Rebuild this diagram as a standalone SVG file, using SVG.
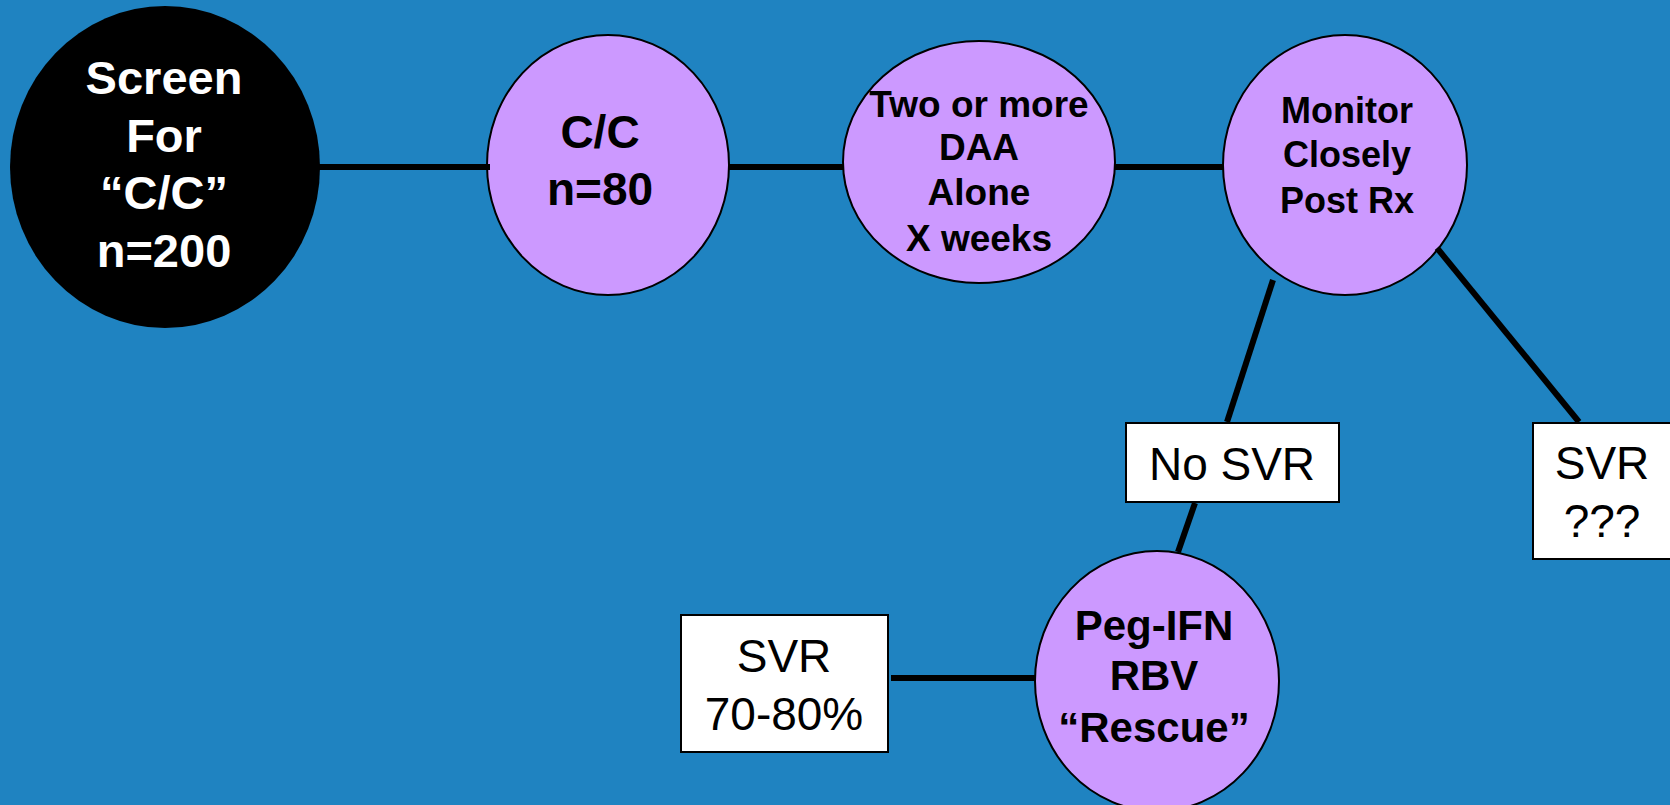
<svg xmlns="http://www.w3.org/2000/svg" width="1670" height="805" viewBox="0 0 1670 805">
<style>
.bg{fill:#1f83c1}
.dark{fill:#000}
.pur{fill:#cc99ff;stroke:#000;stroke-width:2}
.box{fill:#fff;stroke:#000;stroke-width:2}
.b{font-family:"Liberation Sans",Arial,sans-serif;font-weight:bold;text-anchor:middle}
.r{font-family:"Liberation Sans",Arial,sans-serif;text-anchor:middle;fill:#000}
.wt{fill:#fff}
.bk{fill:#000}
.con line{stroke:#000;stroke-width:6}
</style>
<rect class="bg" x="0" y="0" width="1670" height="805"/>
<g id="screen">
<ellipse class="dark" cx="165" cy="167" rx="155" ry="161"/>
<text class="b wt" font-size="47" x="164" y="94">Screen</text>
<text class="b wt" font-size="47" x="164" y="152">For</text>
<text class="b wt" font-size="47" x="164" y="209">“C/C”</text>
<text class="b wt" font-size="47" x="164" y="267">n=200</text>
</g>
<g id="cc">
<ellipse class="pur" cx="608" cy="165" rx="121" ry="130"/>
<text class="b bk" font-size="46" x="600" y="148">C/C</text>
<text class="b bk" font-size="46" x="600" y="205">n=80</text>
</g>
<g id="daa">
<ellipse class="pur" cx="979" cy="162" rx="136" ry="121"/>
<text class="b bk" font-size="37" x="979" y="117">Two or more</text>
<text class="b bk" font-size="37" x="979" y="160">DAA</text>
<text class="b bk" font-size="37" x="979" y="205">Alone</text>
<text class="b bk" font-size="37" x="979" y="251">X weeks</text>
</g>
<g id="monitor">
<ellipse class="pur" cx="1345" cy="165" rx="122" ry="130"/>
<text class="b bk" font-size="36" x="1347" y="123">Monitor</text>
<text class="b bk" font-size="36" x="1347" y="167">Closely</text>
<text class="b bk" font-size="36" x="1347" y="213">Post Rx</text>
</g>
<g id="nosvr">
<rect class="box" x="1126" y="423" width="213" height="79"/>
<text class="r" font-size="46" x="1232" y="480">No SVR</text>
</g>
<g id="svrq">
<rect class="box" x="1533" y="423" width="150" height="136"/>
<text class="r" font-size="46" x="1602" y="479">SVR</text>
<text class="r" font-size="46" x="1602" y="537">???</text>
</g>
<g id="rescue">
<ellipse class="pur" cx="1157" cy="681" rx="122" ry="130"/>
<text class="b bk" font-size="42" x="1154" y="640">Peg-IFN</text>
<text class="b bk" font-size="42" x="1154" y="690">RBV</text>
<text class="b bk" font-size="42" x="1154" y="742">“Rescue”</text>
</g>
<g id="svr7080">
<rect class="box" x="681" y="615" width="207" height="137"/>
<text class="r" font-size="46" x="784" y="672">SVR</text>
<text class="r" font-size="46" x="784" y="730">70-80%</text>
</g>
<g id="connectors" class="con">
<line x1="319" y1="167" x2="490" y2="167"/>
<line x1="729" y1="167" x2="843" y2="167"/>
<line x1="1115" y1="167" x2="1223" y2="167"/>
<line x1="1273" y1="280" x2="1227" y2="422"/>
<line x1="1437" y1="248" x2="1579" y2="422"/>
<line x1="1195" y1="503" x2="1178" y2="552"/>
<line x1="891" y1="678" x2="1035" y2="678"/>
</g>
</svg>
